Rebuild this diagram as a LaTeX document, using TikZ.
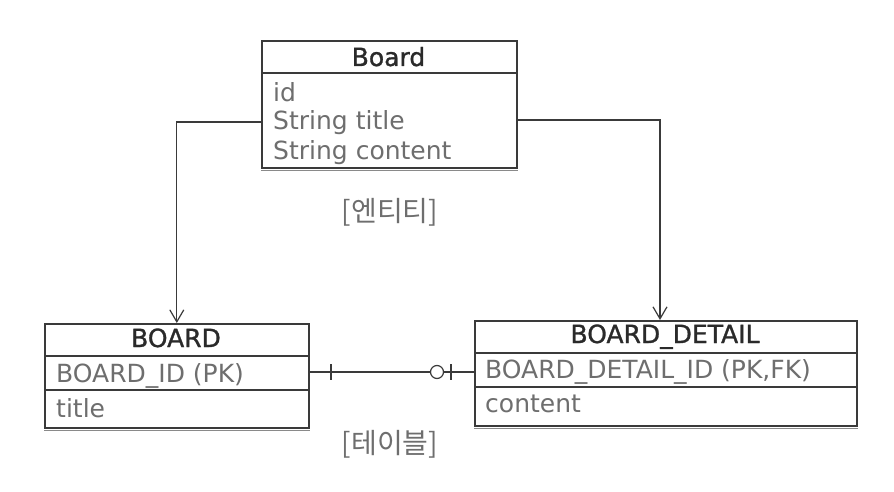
\documentclass[tikz,border=0pt]{standalone}
\usepackage{fontspec}
\setmainfont{DejaVu Sans}
\newfontfamily\krfont{Noto Sans CJK KR}
\newfontfamily\headfont[FakeBold=1.2]{DejaVu Sans}
\usetikzlibrary{arrows.meta}
\definecolor{linec}{HTML}{3A3A3A}
\definecolor{attrc}{HTML}{6E6E6E}
\definecolor{headc}{HTML}{2A2A2A}
\definecolor{shadc}{HTML}{8A8A8A}
\begin{document}
\begin{tikzpicture}[x=1pt,y=-1pt,
  box/.style={draw=linec, line width=1.6pt, fill=white, inner sep=0pt, anchor=north west},
  div/.style={draw=linec, line width=1.2pt},
  shad/.style={draw=shadc, line width=1.6pt},
  head/.style={inner sep=0pt, anchor=base, text=headc, font=\headfont\fontsize{25}{30}\selectfont},
  attr/.style={inner sep=0pt, anchor=base west, text=attrc, font=\fontsize{25}{30}\selectfont},
  captxt/.style={inner sep=0pt, text=attrc, font=\krfont\fontsize{28}{32}\selectfont},
  conn/.style={draw=linec, line width=1.2pt},
  arr/.style={conn, -{Straight Barb[length=12pt,width=14pt,line width=1.2pt]}}
]
\useasboundingbox (0,0) rectangle (894,492);
\fill[white] (0,0) rectangle (894,492);

% Entity box
\node[box, minimum width=255pt, minimum height=127pt] (ent) at (261,40) {};
\draw[shad] ([yshift=-2pt]ent.south west) -- ([yshift=-2pt]ent.south east);
\draw[div] (261,73) -- (516,73);
\node[head] (entH) at (388.5,66) {Board};
\node[attr] (entA1) at (273,102) {id};
\node[attr] (entA2) at (273,130) {String title};
\node[attr] (entA3) at (273,159) {String content};
\node[captxt] (entCap) at (390,212) {[엔티티]};

% BOARD table
\node[box, minimum width=264pt, minimum height=104pt] (tbl) at (44,323) {};
\draw[shad] ([yshift=-2pt]tbl.south west) -- ([yshift=-2pt]tbl.south east);
\draw[div] (44,356) -- (308,356);
\draw[div] (44,390) -- (308,390);
\node[head] (tblH) at (176,347) {BOARD};
\node[attr] (tblA1) at (56,382) {BOARD\_ID (PK)};
\node[attr] (tblA2) at (56,417) {title};

% BOARD_DETAIL table
\node[box, minimum width=382pt, minimum height=105pt] (det) at (474,320) {};
\draw[shad] ([yshift=-2pt]det.south west) -- ([yshift=-2pt]det.south east);
\draw[div] (474,353) -- (856,353);
\draw[div] (474,387) -- (856,387);
\node[head] (detH) at (665,343) {BOARD\_DETAIL};
\node[attr] (detA1) at (485,378) {BOARD\_DETAIL\_ID (PK,FK)};
\node[attr] (detA2) at (485,412) {content};

\node[captxt] (tblCap) at (390,444) {[테이블]};

% connectors from entity to tables
\coordinate (lA) at (0,122);
\coordinate (rA) at (0,120);
\draw[arr] (ent.west |- lA) -| (tbl.north);
\draw[arr] (ent.east |- rA) -| (660,320);

% relationship
\coordinate (rel) at (0,372);
\draw[conn] (tbl.east |- rel) -- (det.west |- rel);
\draw[conn] (331,364) -- (331,380);
\draw[conn] (451,364) -- (451,380);
\draw[conn, fill=white] (437,372) circle (6.5pt);
\end{tikzpicture}
\end{document}
